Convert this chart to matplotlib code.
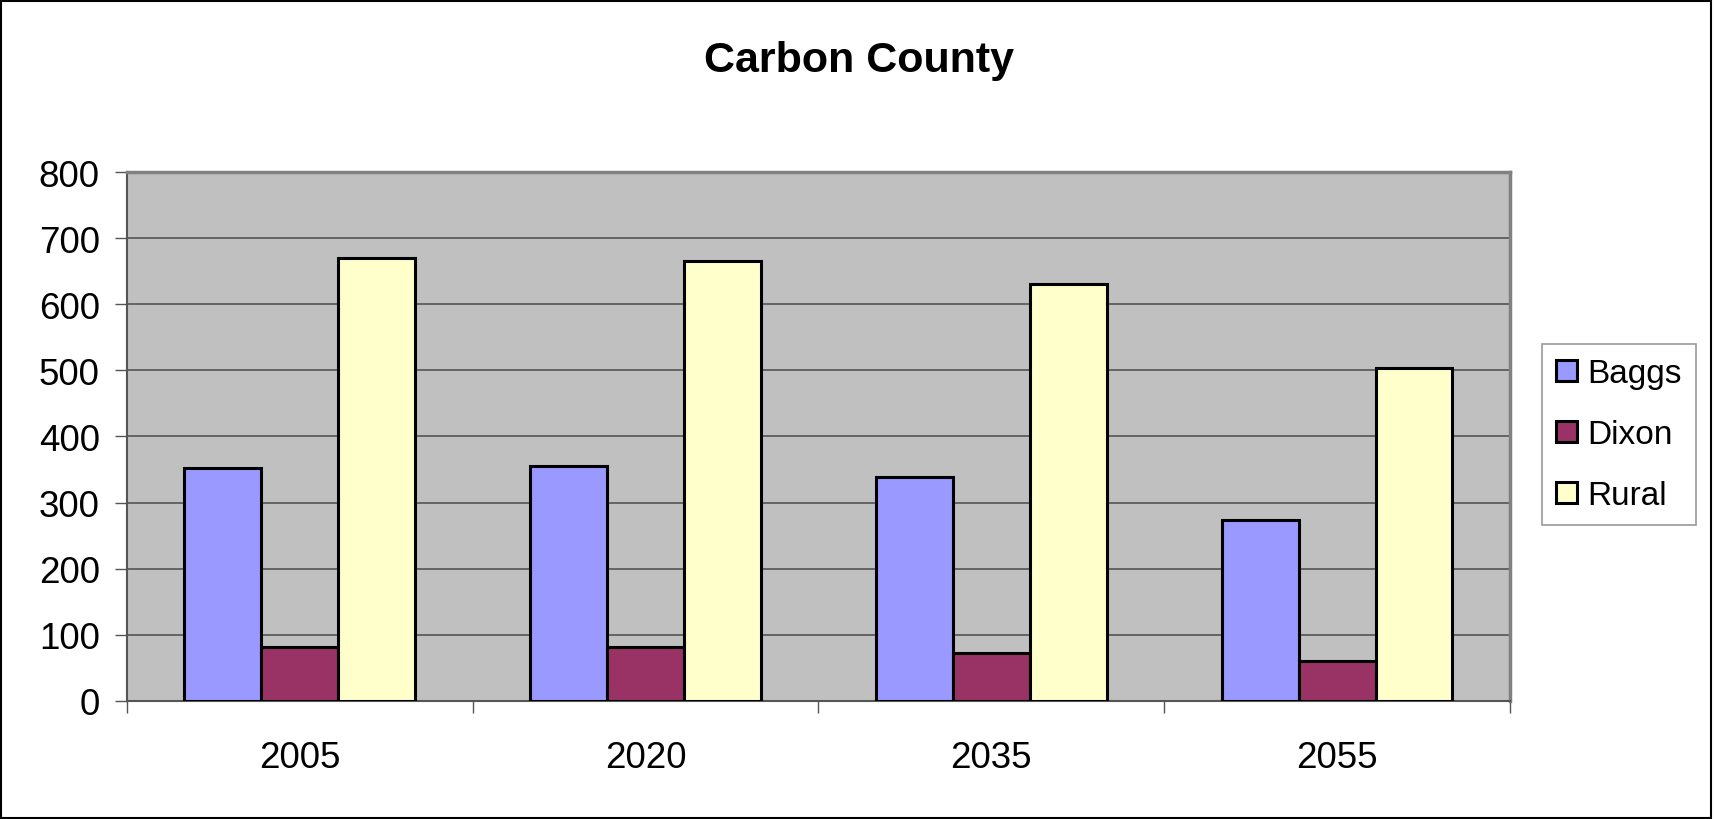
import numpy as np
import matplotlib
matplotlib.use("Agg")
from matplotlib import pyplot as plt
from matplotlib.patches import Rectangle

years = ["2005", "2020", "2035", "2055"]
series = ["Baggs", "Dixon", "Rural"]
baggs = [352, 356, 339, 274]
dixon = [82, 82, 73, 61]
rural = [670, 666, 631, 504]
colors = ["#9999FF", "#993366", "#FFFFCC"]

plt.rcParams['font.family'] = ['Liberation Sans', 'DejaVu Sans']

fig = plt.figure(figsize=(17.14, 8.2), dpi=100)
ax = fig.add_axes([0.074, 0.144, 0.807, 0.645])
ax.set_facecolor("#C0C0C0")

x = np.arange(len(years))
w = 1 / 4.5
for i, (name, vals) in enumerate(zip(series, [baggs, dixon, rural])):
    ax.bar(x + (i - 1) * w, vals, width=w, color=colors[i], edgecolor="black",
           linewidth=2.2, label=name, zorder=3)

ax.set_xlim(-0.5, len(years) - 0.5)
ax.set_ylim(0, 800)
ax.set_yticks(range(0, 801, 100))
ax.yaxis.grid(True, color="#555555", linewidth=1.2, zorder=0)
ax.set_axisbelow(True)

ax.set_xticks(x)
ax.set_xticklabels(years)
ax.set_xticks(np.arange(-0.5, len(years), 1), minor=True)
ax.tick_params(axis="x", which="major", length=0, labelsize=26.5, pad=28)
ax.tick_params(axis="x", which="minor", length=8.5, width=1, color="#555555", direction="out")
ax.tick_params(axis="y", length=8.5, width=1, color="#555555", labelsize=26.5, pad=11)

for s in ["top", "right"]:
    ax.spines[s].set_color("#808080")
    ax.spines[s].set_linewidth(2.5)
for s in ["left", "bottom"]:
    ax.spines[s].set_color("#555555")
    ax.spines[s].set_linewidth(1.5)

fig.text(0.501, 0.926, "Carbon County", ha="center", va="center",
         fontsize=31, fontweight="bold")

leg = ax.legend(loc="center left", bbox_to_anchor=(1.023, 0.503), fontsize=24,
                frameon=True, fancybox=False, edgecolor="#808080",
                handlelength=0.62, handleheight=0.6, handletextpad=0.33,
                labelspacing=0.9, borderpad=0.42, borderaxespad=0)
leg.get_frame().set_linewidth(1.2)

fig.patches.append(Rectangle((0.0005, 0.001), 0.998, 0.997, transform=fig.transFigure,
                             fill=False, edgecolor="black", linewidth=1.5))

fig.savefig("out.png", dpi=100)
